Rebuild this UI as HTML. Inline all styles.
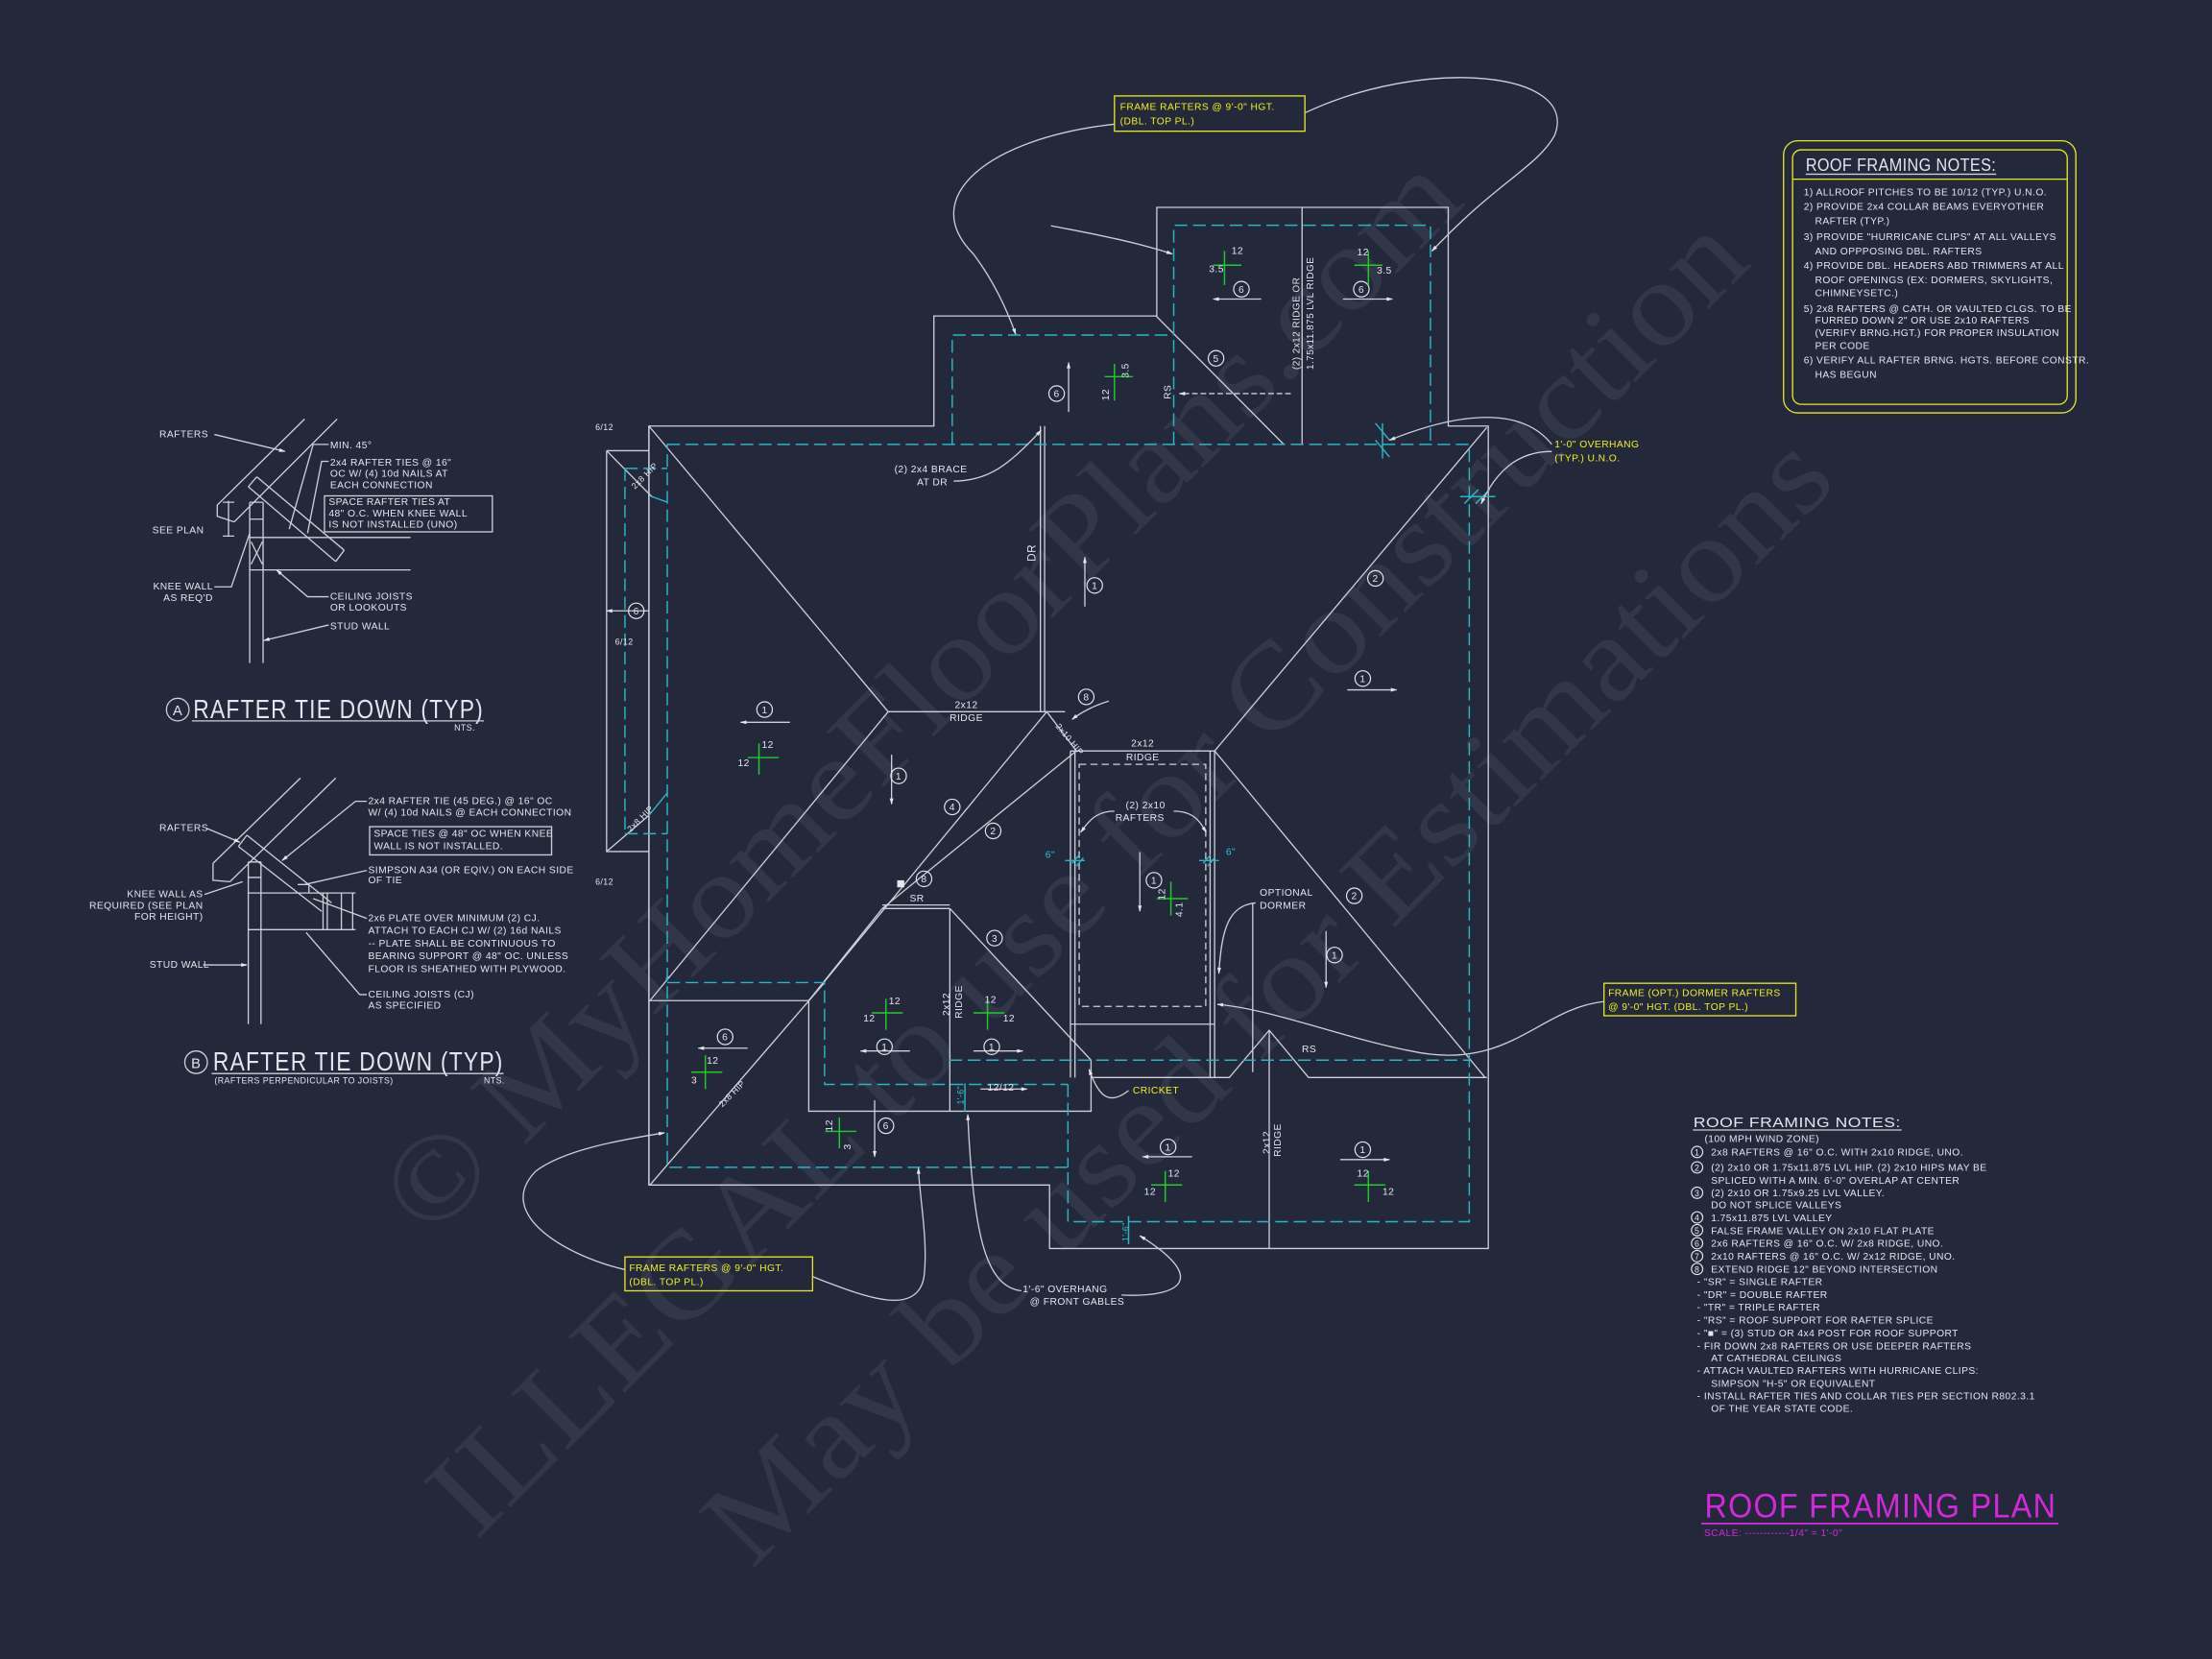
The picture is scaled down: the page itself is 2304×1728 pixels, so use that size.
<!DOCTYPE html>
<html><head><meta charset="utf-8"><style>
html,body{margin:0;padding:0;background:#23283b;}
svg{display:block}
text{font-family:"Liberation Sans",sans-serif;fill:#e4e6ee;font-size:7px;letter-spacing:0.3px}
.w{stroke:#cdd0d8;stroke-width:0.9;fill:none}
.c{stroke:#2ab4c4;stroke-width:1;fill:none;stroke-dasharray:9 4}
.g{stroke:#1fcc2a;stroke-width:1;fill:none}
.y{fill:#f0f020}
.yb{stroke:#e8e820;stroke-width:0.9;fill:none}
.cn circle{stroke:#e4e6ee;stroke-width:0.8;fill:none}
.cn text{text-anchor:middle;font-size:7px}
.cy{fill:#2ec6d6}
.wm{font-family:"Liberation Serif",serif;fill:rgba(255,255,255,0.065);font-size:86px;letter-spacing:0}
</style></head><body>
<svg width="2304" height="1728" viewBox="0 0 1568 1176" xmlns="http://www.w3.org/2000/svg">
<defs>
<marker id="a" viewBox="0 0 10 10" refX="9" refY="5" markerWidth="7" markerHeight="5" orient="auto"><path d="M0,2 L10,5 L0,8 Z" fill="#e4e6ee"/></marker>
</defs>
<rect width="1568" height="1176" fill="#23283b"/>

<!-- watermarks -->
<text class="wm" transform="translate(672,512) rotate(-45)" text-anchor="middle" textLength="1040" lengthAdjust="spacingAndGlyphs">© MyHomeFloorPlans.com</text>
<text class="wm" transform="translate(790,640) rotate(-45)" text-anchor="middle" textLength="1280" lengthAdjust="spacingAndGlyphs">ILLEGAL to use for Construction</text>
<text class="wm" transform="translate(918,728) rotate(-45)" text-anchor="middle" textLength="1090" lengthAdjust="spacingAndGlyphs">May be used for Estimations</text>

<!-- MAIN PLAN white lines -->
<path class="w" d="M460,302 L662,302 L662,224 L820,224 L820,147 L1026.6,147 L1026.6,302 L1055,302 L1055,885 L744,885 L744,840 L460,840 Z"/>
<path class="w" d="M430,319.5 H460 M430,319.5 V603.6 H460 M460,302 V840"/>
<path class="w" d="M430,319.5 L462,352 M430,603.6 L460,578"/>
<path class="w" d="M460,302 L629.6,504.5 L755,504.5 M737.5,302 V504.5 M740.5,302 V504.5"/>
<path class="w" d="M629.6,504.5 L460.7,709.3 M742,504.5 L573.3,709.3 M742,504.5 L763,532.3"/>
<path class="w" d="M763,532.3 L625.4,644 L573.3,709.3 M625.4,644 H673.3 M625.4,641.5 H673.3 M673.3,644 L773.4,751.5 M673.3,644 V787.7"/>
<path class="w" d="M460,709.3 H573.3 L584.5,696.5 M573.3,709.3 V787.7 H773.4 V751.5 M584.5,696.5 L460.7,840"/>
<path class="w" d="M758.8,532.3 H861 V763.8 M758.8,532.3 V763.8 M762,532.3 V763.8 M857.8,532.3 V763.8 M758.8,726 H861"/>
<path class="w" d="M765,541.8 H854.7 V713.4 H765 Z" style="stroke-dasharray:5 3"/>
<path class="w" d="M861,532.3 L1054,303 M861,532.3 L1052.7,763.8"/>
<path class="w" d="M773.4,763.8 H871.4 L899.7,730.3 L927.6,763.8 H1054 M899.7,730.3 V885 M888,640 V760"/>
<path class="w" d="M923,147 V315 M819.5,224 L910,315"/>
<path class="w" d="M915,279 H836" style="stroke-dasharray:4 2" marker-end="url(#a)"/>

<!-- cyan dashed wall lines -->
<path class="c" d="M473,315 H1041.5 V866 H757 V827.5 H473 Z"/>
<path class="c" d="M675,315 V237.5 H832 M832,315 V159.7 H1014 V315"/>
<path class="c" d="M473,696.5 H584.5 V768.7 H757 M673,751.5 H1042 M757,768.7 V827.5"/>
<path class="c" d="M443,332 V591 M443,332 H473 M443,591 H473"/>
<path stroke="#2ab4c4" stroke-width="1" fill="none" d="M462,352 L473,356 M460,578 L473,562 M472,694 L474,692"/>

<!-- overhang ticks -->
<path stroke="#2ab4c4" stroke-width="1" d="M975,300 L985,312 M975,312 L985,324 M980,300 V325 M1038,357 L1048,347 M1046,357 L1056,347 M1035,352 H1060"/>

<!-- arrows (rafter direction) -->
<g class="w" marker-end="url(#a)">
<path d="M894,212 H860"/><path d="M952,212 H987"/><path d="M757.5,292 V257"/>
<path d="M769,430 V395"/><path d="M955,489 H990"/><path d="M560,512 H525"/>
<path d="M632,535 V570"/><path d="M808,604 V646"/><path d="M940,660 V700"/>
<path d="M645,745 H610"/><path d="M690,745 H725"/><path d="M530,743 H495"/>
<path d="M620,780 V820"/><path d="M845,820 H810"/><path d="M950,822 H985"/>
<path d="M460,433 H430"/><path d="M695,772 H728"/>
</g>

<!-- circled numbers -->
<g class="cn">
<circle cx="880" cy="205" r="5.5"/><text x="880" y="207.5">6</text>
<circle cx="965" cy="205" r="5.5"/><text x="965" y="207.5">6</text>
<circle cx="749" cy="279" r="5.5"/><text x="749" y="281.5">6</text>
<circle cx="862" cy="254" r="5.5"/><text x="862" y="256.5">5</text>
<circle cx="776" cy="415" r="5.5"/><text x="776" y="417.5">1</text>
<circle cx="975" cy="410" r="5.5"/><text x="975" y="412.5">2</text>
<circle cx="966" cy="481" r="5.5"/><text x="966" y="483.5">1</text>
<circle cx="542" cy="503" r="5.5"/><text x="542" y="505.5">1</text>
<circle cx="637" cy="550" r="5.5"/><text x="637" y="552.5">1</text>
<circle cx="675" cy="572" r="5.5"/><text x="675" y="574.5">4</text>
<circle cx="704" cy="589" r="5.5"/><text x="704" y="591.5">2</text>
<circle cx="655" cy="623" r="5.5"/><text x="655" y="625.5">8</text>
<circle cx="705" cy="665" r="5.5"/><text x="705" y="667.5">3</text>
<circle cx="770" cy="494" r="5.5"/><text x="770" y="496.5">8</text>
<circle cx="818" cy="624" r="5.5"/><text x="818" y="626.5">1</text>
<circle cx="960" cy="635" r="5.5"/><text x="960" y="637.5">2</text>
<circle cx="946" cy="677" r="5.5"/><text x="946" y="679.5">1</text>
<circle cx="627" cy="742" r="5.5"/><text x="627" y="744.5">1</text>
<circle cx="703" cy="742" r="5.5"/><text x="703" y="744.5">1</text>
<circle cx="514" cy="735" r="5.5"/><text x="514" y="737.5">6</text>
<circle cx="628" cy="798" r="5.5"/><text x="628" y="800.5">6</text>
<circle cx="828" cy="813" r="5.5"/><text x="828" y="815.5">1</text>
<circle cx="966" cy="815" r="5.5"/><text x="966" y="817.5">1</text>
<circle cx="451" cy="433" r="5.5"/><text x="451" y="435.5">6</text>
</g>
<rect x="636" y="624" width="5" height="5" fill="#e4e6ee"/>

<!-- green pitch crosses -->
<path class="g" d="M860,188 h20 M868,178 v24 M960,188 h20 M970,178 v24 M783,267 h20 M790,258 v26 M530,537 h22 M538,527 v22 M618,718 h22 M628,708 v22 M690,718 h22 M700,708 v22 M820,637 h22 M830,625 v24 M490,760 h22 M500,748 v24 M585,802 h22 M595,792 v22 M816,840 h22 M826,830 v22 M960,840 h22 M970,830 v22"/>
<g style="font-size:7px">
<text x="873" y="180">12</text><text x="857" y="193">3.5</text>
<text x="962" y="181">12</text><text x="976" y="194">3.5</text>
<text transform="translate(800,268) rotate(-90)">3.5</text><text transform="translate(786,284) rotate(-90)">12</text>
<text x="540" y="530">12</text><text x="523" y="543">12</text>
<text x="630" y="712">12</text><text x="612" y="724">12</text>
<text x="698" y="711">12</text><text x="711" y="724">12</text>
<text transform="translate(826,638) rotate(-90)">12</text><text transform="translate(838,650) rotate(-90)">4.1</text>
<text x="501" y="754">12</text><text x="490" y="768">3</text>
<text transform="translate(590,802) rotate(-90)">12</text><text transform="translate(603,815) rotate(-90)">3</text>
<text x="828" y="834">12</text><text x="811" y="847">12</text>
<text x="962" y="834">12</text><text x="980" y="847">12</text>
</g>

<!-- labels on plan -->
<text x="685" y="502" text-anchor="middle">2x12</text><text x="685" y="511" text-anchor="middle">RIDGE</text>
<text x="810" y="529" text-anchor="middle">2x12</text><text x="810" y="539" text-anchor="middle">RIDGE</text>
<text x="812" y="573" text-anchor="middle">(2) 2x10</text><text x="808" y="582" text-anchor="middle">RAFTERS</text>
<text x="650" y="639" text-anchor="middle">SR</text>
<text x="928" y="746" text-anchor="middle">RS</text>
<text x="893" y="635">OPTIONAL</text><text x="893" y="644">DORMER</text>
<text transform="translate(673,720) rotate(-90)">2x12</text><text transform="translate(682,722) rotate(-90)">RIDGE</text>
<text transform="translate(900,818) rotate(-90)">2x12</text><text transform="translate(908,820) rotate(-90)">RIDGE</text>
<text transform="translate(734,398) rotate(-90)" style="font-size:8px">DR</text>
<text transform="translate(830,283) rotate(-90)">RS</text>
<text transform="translate(921,262) rotate(-90)" style="font-size:6.8px">(2) 2x12 RIDGE OR</text>
<text transform="translate(931,262) rotate(-90)" style="font-size:6.8px">1.75x11.875 LVL RIDGE</text>
<text transform="translate(450,347) rotate(-45)" style="font-size:6px">2x8 HIP</text>
<text transform="translate(447,590) rotate(-45)" style="font-size:6px">2x8 HIP</text>
<text transform="translate(512,785) rotate(-45)" style="font-size:6px">2x8 HIP</text>
<text transform="translate(748,515) rotate(50)" style="font-size:6px">2x10 HIP</text>
<text x="634" y="335">(2) 2x4 BRACE</text><text x="650" y="344">AT DR</text>
<text x="422" y="305" style="font-size:6px">6/12</text>
<text x="436" y="457" style="font-size:6px">6/12</text>
<text x="422" y="627" style="font-size:6px">6/12</text>
<text x="700" y="773">12/12</text>
<text class="cy" x="741" y="608">6"</text><text class="cy" x="869" y="606">6"</text>
<text class="cy" transform="translate(683,783) rotate(-90)" style="font-size:6px">1'-6"</text>
<text class="cy" transform="translate(800,880) rotate(-90)" style="font-size:6px">1'-6"</text>
<path stroke="#2ab4c4" stroke-width="1" d="M760,612 l5,-6 M763,614 l5,-6 M755,610 h14 M853,612 l5,-6 M856,614 l5,-6 M850,610 h14 M684,768 v20 M800,862 v20"/>
<text class="y" x="803" y="775">CRICKET</text>

<!-- callouts -->
<rect class="yb" x="790" y="68" width="135" height="25"/>
<text class="y" x="794" y="78">FRAME RAFTERS @ 9'-0" HGT.</text>
<text class="y" x="794" y="88">(DBL. TOP PL.)</text>
<path class="w" d="M790,88 C700,98 650,140 690,180 C705,200 714,220 720,237" marker-end="url(#a)"/>
<path class="w" d="M925,80 C1010,40 1120,50 1102,96 C1090,118 1060,130 1015,178" marker-end="url(#a)"/>
<path class="w" d="M745,160 C770,165 800,170 831,180" marker-end="url(#a)"/>
<text class="y" x="1102" y="317">1'-0" OVERHANG</text><text class="y" x="1102" y="327">(TYP.) U.N.O.</text>
<path class="w" d="M1100,315 C1080,290 1040,290 985,312" marker-end="url(#a)"/>
<path class="w" d="M1100,320 C1075,320 1060,335 1050,357" marker-end="url(#a)"/>
<path class="w" d="M676,341 C700,341 715,330 738,305" marker-end="url(#a)"/>
<path class="w" d="M786,497 C776,500 766,505 760,510" marker-end="url(#a)"/>
<rect class="yb" x="1137" y="697" width="136" height="23"/>
<text class="y" x="1140" y="706">FRAME (OPT.) DORMER RAFTERS</text>
<text class="y" x="1140" y="716">@ 9'-0" HGT. (DBL. TOP PL.)</text>
<path class="w" d="M1137,710 C1090,715 1070,760 1000,745 C950,735 900,715 863,712" marker-end="url(#a)"/>
<path class="w" d="M890,640 C870,642 866,660 864,690" marker-end="url(#a)"/>
<path class="w" d="M800,773 C785,785 778,775 772,758" marker-end="url(#a)"/>
<path class="w" d="M790,575 C775,575 770,585 766,590" marker-end="url(#a)"/>
<path class="w" d="M832,575 C848,575 852,585 855,590" marker-end="url(#a)"/>
<rect class="yb" x="443" y="891" width="133" height="24"/>
<text class="y" x="446" y="901">FRAME RAFTERS @ 9'-0" HGT.</text>
<text class="y" x="446" y="911">(DBL. TOP PL.)</text>
<path class="w" d="M443,900 C400,890 350,860 380,830 C400,815 440,808 471,803" marker-end="url(#a)"/>
<path class="w" d="M576,905 C610,918 650,935 655,905 C658,880 652,850 651,828" marker-end="url(#a)"/>
<text x="725" y="916">1'-6" OVERHANG</text><text x="730" y="925">@ FRONT GABLES</text>
<path class="w" d="M724,915 C700,912 690,880 686,790" marker-end="url(#a)"/>
<path class="w" d="M795,918 C840,920 855,905 808,876" marker-end="url(#a)"/>

<!-- DETAIL A -->
<path class="w" d="M154,358 L216,297 M166,370 L239,297 M154,358 V366 L166,370 M177,356 V470 M186.5,356 V470 M177,356 H186.5 M177,368 H186.5 M177,381 H291 M177,404 H291"/>
<path class="w" d="M176,345 L238,398 M182,338 L244,390 M176,345 L182,338 M238,398 L244,390"/>
<path class="w" d="M178,384 L186,400 M186,384 L178,400"/>
<path class="w" d="M162,355 V380 M158,356 h8 M158,380 h8"/>
<text x="113" y="310">RAFTERS</text><path class="w" d="M152,308 L202,320" marker-end="url(#a)"/>
<text x="234" y="318">MIN. 45°</text><path class="w" d="M233,315 H222 L205,375"/>
<text x="234" y="330">2x4 RAFTER TIES @ 16"</text>
<text x="234" y="338">OC W/ (4) 10d NAILS AT</text>
<text x="234" y="346">EACH CONNECTION</text>
<path class="w" d="M233,327 H228 L218,378"/>
<rect class="w" x="230" y="351.5" width="119" height="25.5"/>
<text x="233" y="358">SPACE RAFTER TIES AT</text>
<text x="233" y="366">48" O.C. WHEN KNEE WALL</text>
<text x="233" y="374">IS NOT INSTALLED (UNO)</text>
<text x="108" y="378">SEE PLAN</text>
<text x="151" y="418" text-anchor="end">KNEE WALL</text><text x="151" y="426" text-anchor="end">AS REQ'D</text>
<path class="w" d="M152,416 H164 L177,378"/>
<text x="234" y="425">CEILING JOISTS</text><text x="234" y="433">OR LOOKOUTS</text>
<path class="w" d="M233,423 H218 L196,404" marker-end="url(#a)"/>
<text x="234" y="446">STUD WALL</text><path class="w" d="M233,443 L187,454" marker-end="url(#a)"/>
<circle cx="126" cy="503" r="8" class="w"/><text x="126" y="507" text-anchor="middle" style="font-size:10px">A</text>
<text x="137" y="509" style="font-size:19px;letter-spacing:1px" textLength="206" lengthAdjust="spacingAndGlyphs">RAFTER TIE DOWN (TYP)</text>
<path class="w" d="M136,511 H343"/>
<text x="322" y="518" style="font-size:6px">NTS.</text>

<!-- DETAIL B -->
<path class="w" d="M151,612 L213,551.5 M163,625 L238,551.5 M151,612 V624 L163,625 M176,611 V726 M185,611 V726 M176,633 H252 M176,659 H252 M176,611 H185 M176,622 H185"/>
<path class="w" d="M169,600 L228,646 M175,592 L235,640 M169,600 L175,592"/>
<path class="w" d="M229,633 V659 M232,633 V659 M242,633 V659 M250,633 V659 M211,627 h8 v6"/>
<text x="113" y="589">RAFTERS</text><path class="w" d="M146,587 L170,597" marker-end="url(#a)"/>
<text x="144" y="636" text-anchor="end">KNEE WALL AS</text>
<text x="144" y="644" text-anchor="end">REQUIRED (SEE PLAN</text>
<text x="144" y="652" text-anchor="end">FOR HEIGHT)</text>
<path class="w" d="M145,634 L172,625"/>
<text x="106" y="686">STUD WALL</text><path class="w" d="M144,684 H175" marker-end="url(#a)"/>
<text x="261" y="570">2x4 RAFTER TIE (45 DEG.) @ 16" OC</text>
<text x="261" y="578">W/ (4) 10d NAILS @ EACH CONNECTION</text>
<path class="w" d="M260,568 H252 L200,610" marker-end="url(#a)"/>
<rect class="w" x="262" y="586" width="129" height="20"/>
<text x="265" y="593">SPACE TIES @ 48" OC WHEN KNEE</text>
<text x="265" y="602">WALL IS NOT INSTALLED.</text>
<text x="261" y="619">SIMPSON A34 (OR EQIV.) ON EACH SIDE</text>
<text x="261" y="626">OF TIE</text><path class="w" d="M260,617 L216,627"/>
<text x="261" y="653">2x6 PLATE OVER MINIMUM (2) CJ.</text>
<text x="261" y="662">ATTACH TO EACH CJ W/ (2) 16d NAILS</text>
<text x="261" y="671">-- PLATE SHALL BE CONTINUOUS TO</text>
<text x="261" y="680">BEARING SUPPORT @ 48" OC. UNLESS</text>
<text x="261" y="689">FLOOR IS SHEATHED WITH PLYWOOD.</text>
<path class="w" d="M260,651 L222,637"/>
<text x="261" y="707">CEILING JOISTS (CJ)</text><text x="261" y="715">AS SPECIFIED</text>
<path class="w" d="M260,705 H255 L217,661"/>
<circle cx="139" cy="753" r="8" class="w"/><text x="139" y="757" text-anchor="middle" style="font-size:10px">B</text>
<text x="151" y="759" style="font-size:19px;letter-spacing:1px" textLength="206" lengthAdjust="spacingAndGlyphs">RAFTER TIE DOWN (TYP)</text>
<path class="w" d="M150,761 H357"/>
<text x="152" y="768" style="font-size:6px">(RAFTERS PERPENDICULAR TO JOISTS)</text>
<text x="343" y="768" style="font-size:6px">NTS.</text>

<!-- TOP RIGHT NOTES -->
<rect x="1264.3" y="99.8" width="207.2" height="192.9" rx="10" class="yb"/>
<rect x="1270.7" y="106.2" width="194.7" height="180.4" rx="6" class="yb"/>
<path class="yb" d="M1270.7,127 H1465.4"/>
<text x="1280" y="121" style="font-size:12.5px" textLength="135" lengthAdjust="spacingAndGlyphs">ROOF FRAMING NOTES:</text>
<path class="w" d="M1280,123.5 H1415"/>
<g style="font-size:6.8px">
<text x="1278.6" y="138.4">1) ALLROOF PITCHES TO BE  10/12 (TYP.) U.N.O.</text>
<text x="1278.6" y="148.6">2) PROVIDE 2x4 COLLAR BEAMS EVERYOTHER</text>
<text x="1286.6" y="158.8">RAFTER (TYP.)</text>
<text x="1278.6" y="170.2">3) PROVIDE "HURRICANE CLIPS" AT ALL VALLEYS</text>
<text x="1286.6" y="180.4">AND OPPPOSING DBL. RAFTERS</text>
<text x="1278.6" y="190.6">4) PROVIDE DBL. HEADERS ABD TRIMMERS AT ALL</text>
<text x="1286.6" y="200.8">ROOF OPENINGS (EX: DORMERS, SKYLIGHTS,</text>
<text x="1286.6" y="209.9">CHIMNEYSETC.)</text>
<text x="1278.6" y="221.2">5) 2x8 RAFTERS @ CATH. OR VAULTED CLGS. TO BE</text>
<text x="1286.6" y="229.2">FURRED DOWN 2" OR USE 2x10 RAFTERS</text>
<text x="1286.6" y="238.2">(VERIFY BRNG.HGT.) FOR PROPER INSULATION</text>
<text x="1286.6" y="247.3">PER CODE</text>
<text x="1278.6" y="257.5">6) VERIFY ALL RAFTER BRNG. HGTS. BEFORE CONSTR.</text>
<text x="1286.6" y="267.7">HAS BEGUN</text>
</g>

<!-- BOTTOM RIGHT NOTES -->
<text x="1200.4" y="799" style="font-size:10px" textLength="147" lengthAdjust="spacingAndGlyphs">ROOF FRAMING NOTES:</text>
<path class="w" d="M1200,801 H1348"/>
<g style="font-size:7px">
<text x="1208.3" y="809.6">(100 MPH WIND ZONE)</text>
<text x="1212.9" y="819.1">2x8 RAFTERS @ 16" O.C. WITH 2x10 RIDGE, UNO.</text>
<text x="1212.9" y="830">(2) 2x10 OR 1.75x11.875 LVL HIP. (2) 2x10 HIPS MAY BE</text>
<text x="1212.9" y="839">SPLICED WITH A MIN. 6'-0" OVERLAP AT CENTER</text>
<text x="1212.9" y="848">(2) 2x10 OR 1.75x9.25 LVL VALLEY.</text>
<text x="1212.9" y="856.5">DO NOT SPLICE VALLEYS</text>
<text x="1212.9" y="865.6">1.75x11.875 LVL VALLEY</text>
<text x="1212.9" y="874.7">FALSE FRAME VALLEY ON 2x10 FLAT PLATE</text>
<text x="1212.9" y="883.8">2x6 RAFTERS @ 16" O.C. W/ 2x8 RIDGE, UNO.</text>
<text x="1212.9" y="892.9">2x10 RAFTERS @ 16" O.C. W/ 2x12 RIDGE, UNO.</text>
<text x="1212.9" y="902">EXTEND RIDGE 12" BEYOND INTERSECTION</text>
<text x="1203" y="911">-   "SR" = SINGLE RAFTER</text>
<text x="1203" y="920">-   "DR" = DOUBLE RAFTER</text>
<text x="1203" y="929">-   "TR" = TRIPLE RAFTER</text>
<text x="1203" y="938">-   "RS" = ROOF SUPPORT FOR RAFTER SPLICE</text>
<text x="1203" y="947.3">-   "■"  = (3) STUD OR 4x4 POST FOR ROOF SUPPORT</text>
<text x="1203" y="956.4">-   FIR DOWN 2x8 RAFTERS OR USE DEEPER RAFTERS</text>
<text x="1212.9" y="965">AT CATHEDRAL CEILINGS</text>
<text x="1203" y="974">-   ATTACH VAULTED RAFTERS WITH HURRICANE CLIPS:</text>
<text x="1212.9" y="983">SIMPSON "H-5" OR EQUIVALENT</text>
<text x="1203" y="992">-   INSTALL RAFTER TIES AND COLLAR TIES PER SECTION R802.3.1</text>
<text x="1212.9" y="1000.6">OF THE YEAR STATE CODE.</text>
</g>
<g class="cn">
<circle cx="1203" cy="816.6" r="4"/><text x="1203" y="819" style="font-size:6px">1</text>
<circle cx="1203" cy="827.5" r="4"/><text x="1203" y="830" style="font-size:6px">2</text>
<circle cx="1203" cy="845.5" r="4"/><text x="1203" y="848" style="font-size:6px">3</text>
<circle cx="1203" cy="863" r="4"/><text x="1203" y="865.5" style="font-size:6px">4</text>
<circle cx="1203" cy="872" r="4"/><text x="1203" y="874.5" style="font-size:6px">5</text>
<circle cx="1203" cy="881.3" r="4"/><text x="1203" y="883.8" style="font-size:6px">6</text>
<circle cx="1203" cy="890.4" r="4"/><text x="1203" y="892.9" style="font-size:6px">7</text>
<circle cx="1203" cy="899.5" r="4"/><text x="1203" y="902" style="font-size:6px">8</text>
</g>
<text x="1208.3" y="1075.5" style="font-size:24px;fill:#d22ad8;letter-spacing:1px" textLength="249.6" lengthAdjust="spacingAndGlyphs">ROOF FRAMING PLAN</text>
<path d="M1206,1080 H1459" stroke="#d22ad8" stroke-width="1.2"/>
<text x="1208" y="1089" style="font-size:7px;fill:#d22ad8">SCALE: ------------1/4" = 1'-0"</text>
</svg>
</body></html>
